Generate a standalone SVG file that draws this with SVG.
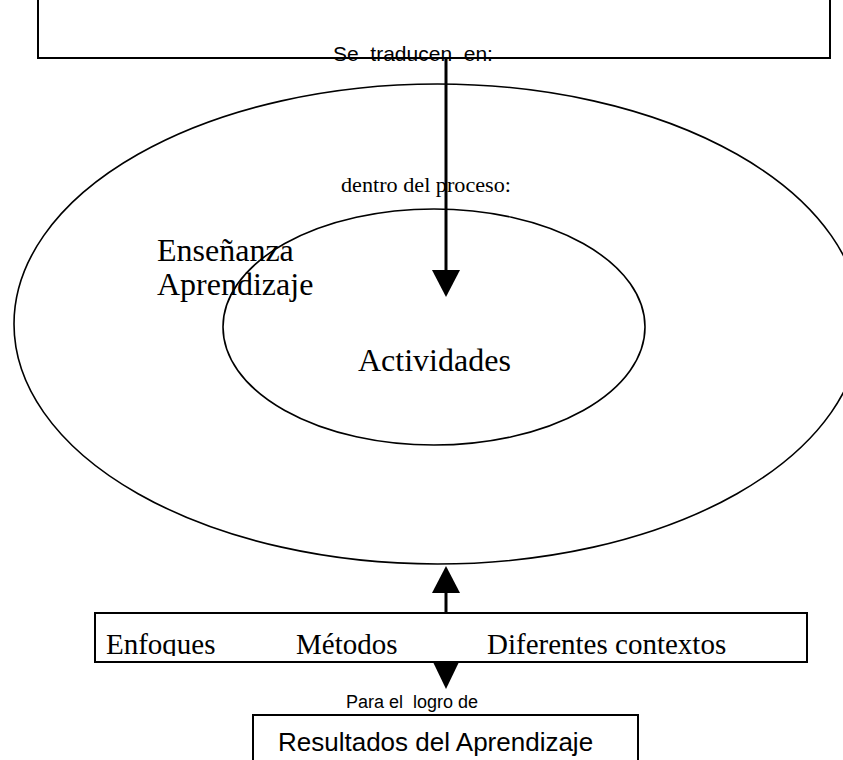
<svg xmlns="http://www.w3.org/2000/svg" width="843" height="760" viewBox="0 0 843 760">
<style>
.box{fill:none;stroke:#000;stroke-width:2}
.ell{fill:none;stroke:#000;stroke-width:1.6}
.shaft{stroke:#000;stroke-width:3;fill:none}
.head{fill:#000;stroke:none}
.sans{font-family:"Liberation Sans",Arial,sans-serif;fill:#000}
.serif{font-family:"Liberation Serif","Times New Roman",serif;fill:#000}
</style>
<defs>
<clipPath id="midclip"><rect x="96" y="614" width="710" height="42"/></clipPath>
</defs>
<rect width="843" height="760" fill="#fff"/>
<g id="top-box">
<path class="box" d="M38,-5 V58 H830 V-5"/>
</g>
<g id="ensenanza-aprendizaje">
<ellipse class="ell" cx="437.5" cy="324" rx="423.5" ry="240"/>
<text class="serif" font-size="32" x="157" y="261">Enseñanza</text>
<text class="serif" font-size="32" x="157" y="295">Aprendizaje</text>
</g>
<g id="actividades">
<ellipse class="ell" cx="434" cy="327" rx="211" ry="118"/>
<text class="serif" font-size="32" x="358" y="371">Actividades</text>
</g>
<g id="metodos-box">
<rect class="box" x="95" y="613" width="712" height="49"/>
<g clip-path="url(#midclip)">
<text class="serif" font-size="29" x="106" y="654">Enfoques</text>
<text class="serif" font-size="29" x="296" y="654">Métodos</text>
<text class="serif" font-size="29" x="487" y="654">Diferentes contextos</text>
</g>
</g>
<g id="resultados-box">
<rect class="box" x="253" y="715" width="385" height="60"/>
<text class="sans" font-size="26" x="278" y="751">Resultados del Aprendizaje</text>
</g>
<g id="connectors">
<line class="shaft" x1="446" y1="58" x2="446" y2="272"/>
<polygon class="head" points="432,270 460,270 446,297"/>
<line class="shaft" x1="446" y1="613" x2="446" y2="590"/>
<polygon class="head" points="432,593 460,593 446,566"/>
<polygon class="head" points="433,662 459,662 446,689"/>
</g>
<g id="labels">
<text class="sans" font-size="21" x="333" y="61" xml:space="preserve">Se  traducen  en:</text>
<text class="serif" font-size="20" x="341" y="192" textLength="170" lengthAdjust="spacingAndGlyphs">dentro del proceso:</text>
<text class="sans" font-size="18" x="346" y="708" xml:space="preserve">Para el  logro de</text>
</g>
</svg>
